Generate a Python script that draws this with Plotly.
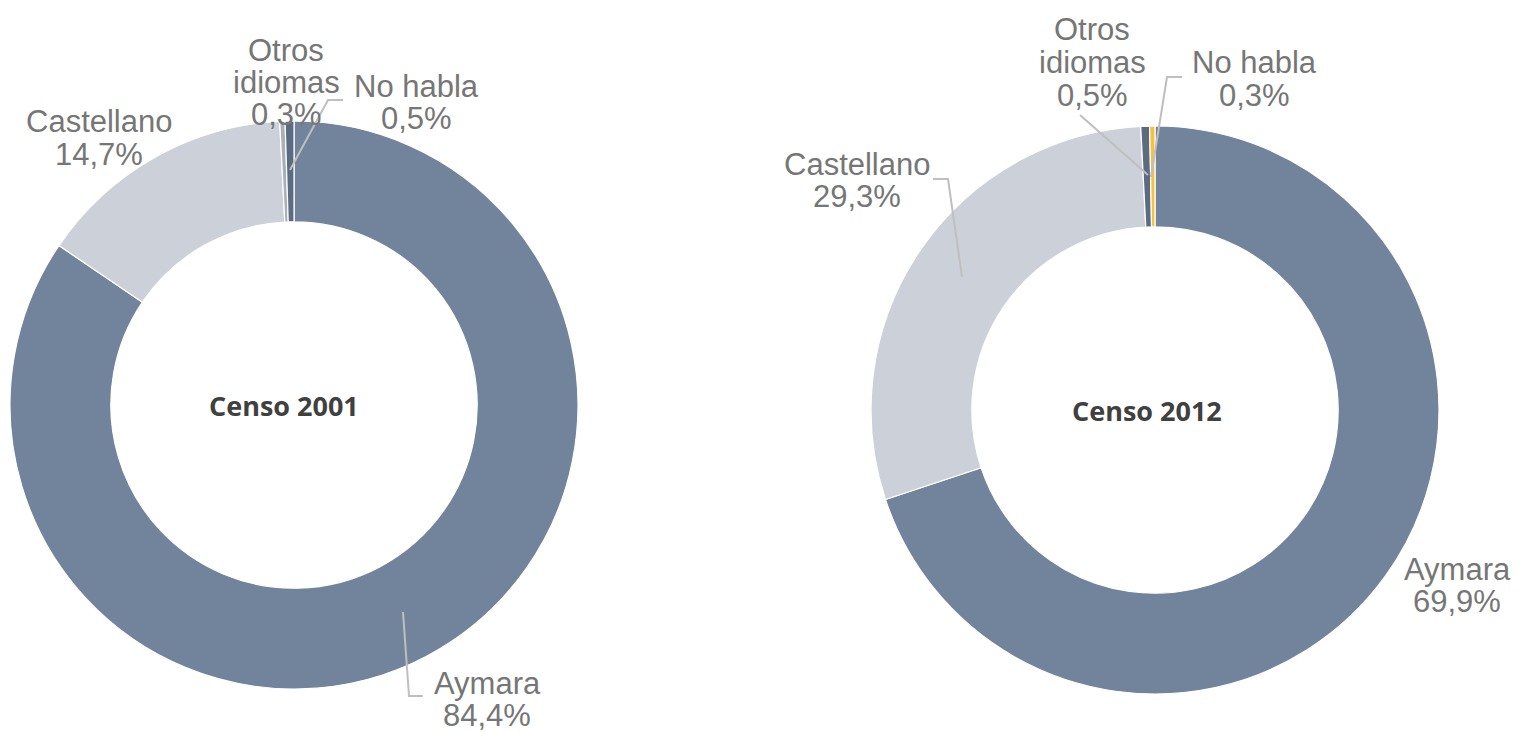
import plotly.graph_objects as go

# page body has an 8px margin; the figure is sized to fill the rest of the window
OFF = 8
W, H = 1520 - OFF, 732 - OFF

# ---- data ----
categories = ["Aymara", "Castellano", "Otros idiomas", "No habla"]
values_2001 = [84.4, 14.7, 0.3, 0.5]
values_2012 = [69.9, 29.3, 0.5, 0.3]
titles = ["Censo 2001", "Censo 2012"]

colors_2001 = ["#71849C", "#CCD1D9", "#A9B0BA", "#5B6B82"]
colors_2012 = ["#71849C", "#CCD1D9", "#5B6B82", "#F5C240"]


def px_x(x):
    return (x - OFF) / W


def px_y(y):
    return 1 - (y - OFF) / H


def fmt(v):
    return f"{v:.1f}".replace(".", ",") + "%"


fig = go.Figure()

# domains in window pixel space (left, right, top, bottom)
doms = [(10, 578, 121, 689), (871, 1439, 126, 694)]
for vals, cols, d in zip([values_2001, values_2012], [colors_2001, colors_2012], doms):
    fig.add_trace(go.Pie(
        labels=categories,
        values=vals,
        sort=False,
        direction="clockwise",
        rotation=0,
        hole=0.645,
        marker=dict(colors=cols, line=dict(color="white", width=1.2)),
        textinfo="none",
        hoverinfo="label+percent",
        showlegend=False,
        domain=dict(x=[px_x(d[0]), px_x(d[1])], y=[px_y(d[3]), px_y(d[2])]),
    ))

# centre titles
centers = [(284, 405), (1147, 410)]
for t, (cx, cy) in zip(titles, centers):
    fig.add_annotation(x=px_x(cx), y=px_y(cy), xref="paper", yref="paper",
                       text=f"<b>{t}</b>", showarrow=False,
                       font=dict(family="Open Sans", size=27, color="#404040"),
                       xanchor="center", yanchor="middle")

# label placements (pixel centres of first line) per chart, per category
label_pos = [
    {"Aymara": (487, 683), "Castellano": (99, 122), "Otros idiomas": (286, 50), "No habla": (416, 86)},
    {"Aymara": (1457, 569), "Castellano": (857, 164), "Otros idiomas": (1092, 30), "No habla": (1254, 63)},
]
LS = 32.5
label_font = dict(family="Liberation Sans", size=31, color="#767676")
for vals, pos in zip([values_2001, values_2012], label_pos):
    for cat, v in zip(categories, vals):
        lines = cat.split(" ") if cat == "Otros idiomas" else [cat]
        lines = lines + [fmt(v)]
        x0, y0 = pos[cat]
        for i, ln in enumerate(lines):
            fig.add_annotation(x=px_x(x0), y=px_y(y0 + i * LS), xref="paper", yref="paper",
                               text=ln, showarrow=False, font=label_font,
                               xanchor="center", yanchor="middle")

# leader lines
leaders = [
    [(343, 100), (328, 100), (290, 170)],
    [(423, 696), (409, 696), (403, 612)],
    [(1080, 115), (1148, 175)],
    [(1182, 77), (1167, 77), (1151, 177)],
    [(933, 179), (948, 179), (962, 277)],
]
for pts in leaders:
    path = "M " + " L ".join(f"{px_x(x):.5f},{px_y(y):.5f}" for x, y in pts)
    fig.add_shape(type="path", path=path, xref="paper", yref="paper",
                  line=dict(color="#BFBFBF", width=2))

fig.update_layout(
    width=W, height=H,
    margin=dict(l=0, r=0, t=0, b=0),
    paper_bgcolor="white",
    plot_bgcolor="white",
)

fig.write_html("out.html")
